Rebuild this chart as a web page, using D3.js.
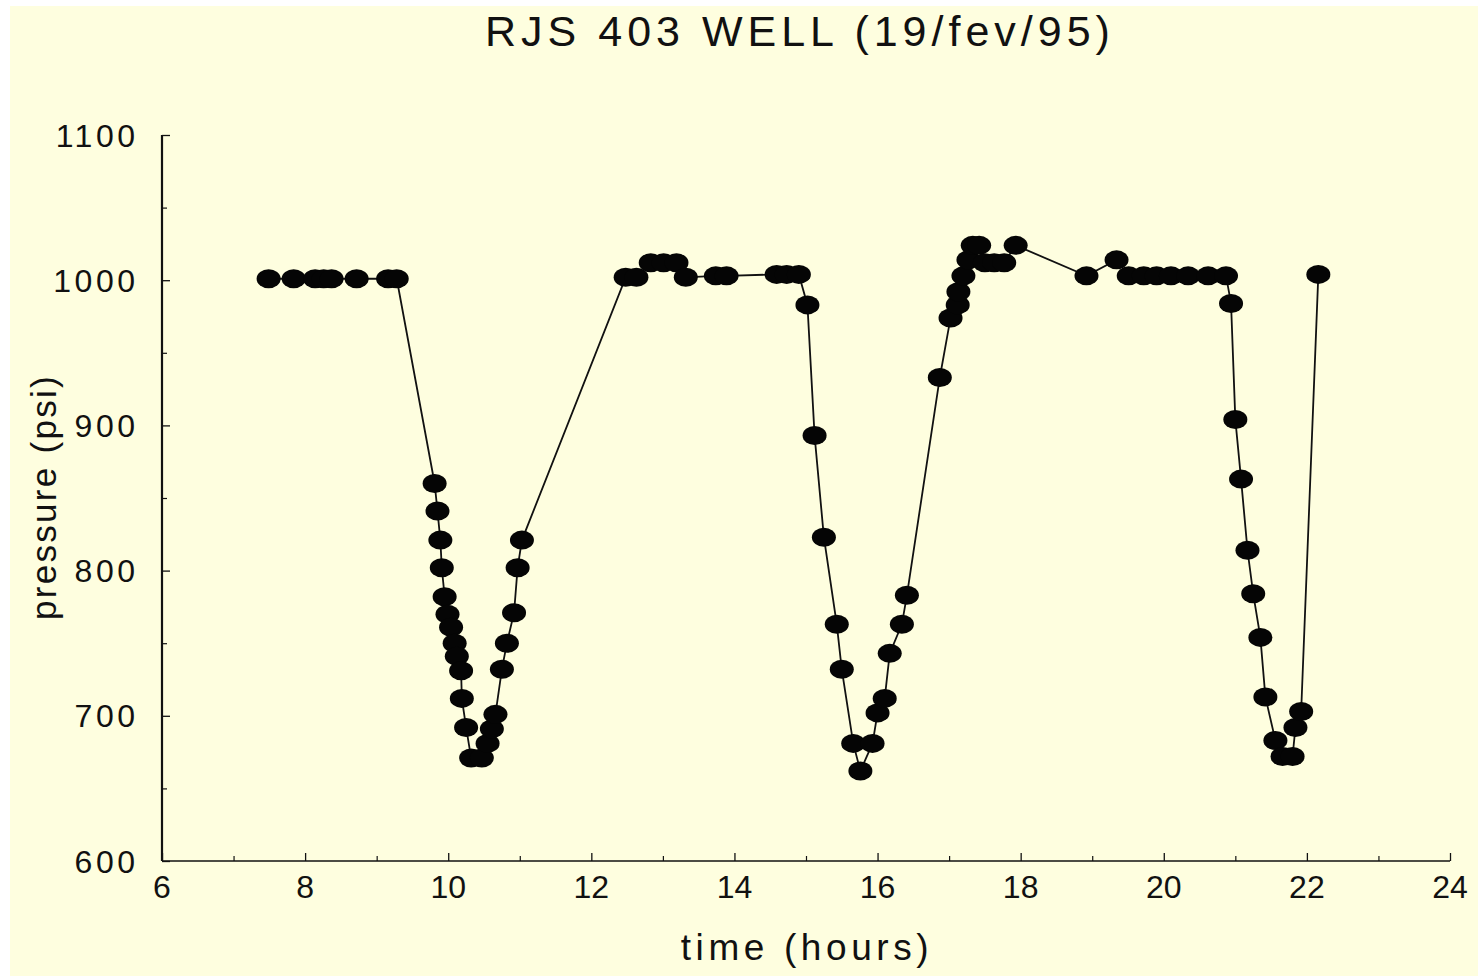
<!DOCTYPE html>
<html>
<head>
<meta charset="utf-8">
<script src="https://cdn.jsdelivr.net/npm/d3@7"></script>
<style>
  html, body { margin: 0; padding: 0; background: #ffffff; }
  svg { display: block; }
  text { font-family: "Liberation Sans", Arial, sans-serif; fill: #111; }
</style>
</head>
<body>
<svg id="chart" width="1482" height="979"></svg>
<script>
// ---- data ----
const title = "RJS 403 WELL (19/fev/95)";
const xLabel = "time (hours)";
const yLabel = "pressure (psi)";

const timeHours = [
  7.49, 7.84, 8.14, 8.26, 8.37, 8.72, 9.16, 9.28,
  9.81, 9.85, 9.89, 9.91, 9.95, 9.99, 10.04, 10.09, 10.12, 10.18, 10.19, 10.25,
  10.32, 10.47, 10.55, 10.61, 10.66, 10.75, 10.82, 10.92, 10.97, 11.03,
  12.48, 12.63, 12.83, 13.01, 13.19, 13.32, 13.74, 13.89, 14.59, 14.73, 14.90,
  15.02, 15.12, 15.25, 15.43, 15.50, 15.66, 15.76, 15.93, 16.00, 16.10, 16.17,
  16.34, 16.41, 16.87, 17.02, 17.12, 17.13, 17.20, 17.27, 17.33, 17.42,
  17.50, 17.63, 17.77, 17.93, 18.92, 19.34,
  19.51, 19.72, 19.90, 20.10, 20.34, 20.62, 20.87,
  20.94, 21.00, 21.08, 21.17, 21.25, 21.35, 21.42, 21.56, 21.66, 21.80, 21.84, 21.92,
  22.16
];
const pressurePsi = [
  1001, 1001, 1001, 1001, 1001, 1001, 1001, 1001,
  860, 841, 821, 802, 782, 770, 761, 750, 741, 731, 712, 692,
  671, 671, 681, 691, 701, 732, 750, 771, 802, 821,
  1002, 1002, 1012, 1012, 1012, 1002, 1003, 1003, 1004, 1004, 1004,
  983, 893, 823, 763, 732, 681, 662, 681, 702, 712, 743,
  763, 783, 933, 974, 983, 992, 1003, 1014, 1024, 1024,
  1012, 1012, 1012, 1024, 1003, 1014,
  1003, 1003, 1003, 1003, 1003, 1003, 1003,
  984, 904, 863, 814, 784, 754, 713, 683, 672, 672, 692, 703,
  1004
];

const xMajorTicks = [6, 8, 10, 12, 14, 16, 18, 20, 22, 24];
const xMinorTicks = [7, 9, 11, 13, 15, 17, 19, 21, 23];
const yMajorTicks = [600, 700, 800, 900, 1000, 1100];
const yMinorTicks = [650, 750, 850, 950, 1050];

// ---- drawing ----
const svg = d3.select("#chart");
svg.append("rect").attr("x", 10).attr("y", 6).attr("width", 1468).attr("height", 970)
  .attr("fill", "#fefedf");

const x = d3.scaleLinear().domain([6, 24]).range([162, 1450]);
const y = d3.scaleLinear().domain([600, 1100]).range([861, 135]);

const data = timeHours.map((t, i) => ({ t, p: pressurePsi[i] }));

// axes lines
const axisG = svg.append("g").attr("stroke", "#111").attr("fill", "none");
axisG.append("line").attr("x1", x(6)).attr("x2", x(6)).attr("y1", y(1100)).attr("y2", y(600))
  .attr("stroke-width", 2.2);
axisG.append("line").attr("x1", x(6)).attr("x2", x(24)).attr("y1", y(600)).attr("y2", y(600))
  .attr("stroke-width", 1.6);

// y ticks (inward)
const yAxis = d3.axisRight(y).tickValues(yMajorTicks).tickSize(8).tickFormat("");
svg.append("g").attr("transform", `translate(${x(6)},0)`).call(yAxis)
  .call(g => g.select(".domain").remove())
  .call(g => g.selectAll("line").attr("stroke", "#111").attr("stroke-width", 1.3));
const yAxisMinor = d3.axisRight(y).tickValues(yMinorTicks).tickSize(5).tickFormat("");
svg.append("g").attr("transform", `translate(${x(6)},0)`).call(yAxisMinor)
  .call(g => g.select(".domain").remove())
  .call(g => g.selectAll("line").attr("stroke", "#111").attr("stroke-width", 1.2));

// x ticks (inward)
const xAxis = d3.axisTop(x).tickValues(xMajorTicks).tickSize(8).tickFormat("");
svg.append("g").attr("transform", `translate(0,${y(600)})`).call(xAxis)
  .call(g => g.select(".domain").remove())
  .call(g => g.selectAll("line").attr("stroke", "#111").attr("stroke-width", 1.3));
const xAxisMinor = d3.axisTop(x).tickValues(xMinorTicks).tickSize(5).tickFormat("");
svg.append("g").attr("transform", `translate(0,${y(600)})`).call(xAxisMinor)
  .call(g => g.select(".domain").remove())
  .call(g => g.selectAll("line").attr("stroke", "#111").attr("stroke-width", 1.2));

// tick labels
svg.append("g").selectAll("text").data(yMajorTicks).join("text")
  .attr("x", 135 + 3.5).attr("y", d => y(d) + 11.5)
  .attr("text-anchor", "end")
  .style("font-size", "32px").style("letter-spacing", "3.5px")
  .text(d => d);
svg.append("g").selectAll("text").data(xMajorTicks).join("text")
  .attr("x", d => x(d)).attr("y", 898)
  .attr("text-anchor", "middle")
  .style("font-size", "32px")
  .text(d => d);

// titles
svg.append("text").attr("x", 800).attr("y", 46).attr("text-anchor", "middle")
  .style("font-size", "43px").style("letter-spacing", "5px").text(title);
svg.append("text").attr("x", 807).attr("y", 960).attr("text-anchor", "middle")
  .style("font-size", "37px").style("letter-spacing", "4.6px").text(xLabel);
svg.append("text").attr("transform", "translate(56,497) rotate(-90)").attr("text-anchor", "middle")
  .style("font-size", "35px").style("letter-spacing", "2.3px").text(yLabel);

// line
const line = d3.line().x(d => x(d.t)).y(d => y(d.p));
svg.append("path").datum(data).attr("d", line)
  .attr("fill", "none").attr("stroke", "#111").attr("stroke-width", 1.8);

// markers
svg.append("g").selectAll("ellipse").data(data).join("ellipse")
  .attr("cx", d => x(d.t)).attr("cy", d => y(d.p))
  .attr("rx", 12).attr("ry", 9.5)
  .attr("fill", "#050505");
</script>
</body>
</html>
